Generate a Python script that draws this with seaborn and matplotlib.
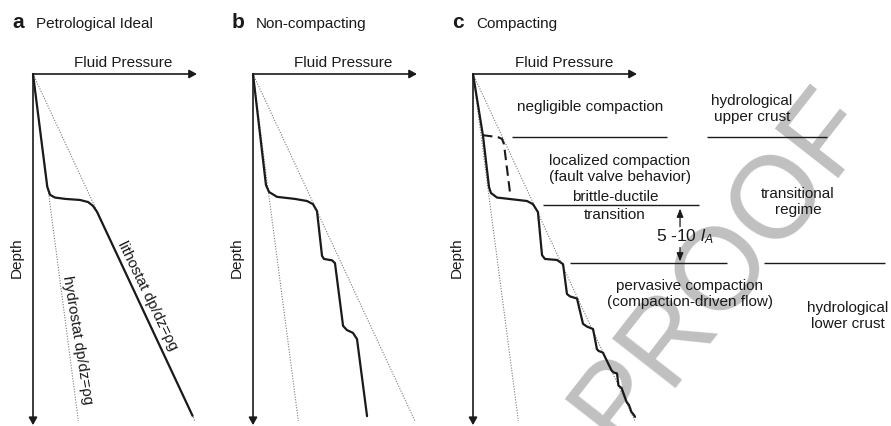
import matplotlib
matplotlib.use("Agg")
import matplotlib.pyplot as plt
import seaborn as sns
import pandas as pd

# ---------------- data (relative units: depth 0..1, pressure in lithostat units) ----------
depth_end = [0.0, 1.0]
hydro_p = [0.0, 0.28]        # hydrostat  dp/dz = rho_f g
litho_p = [0.0, 1.0]         # lithostat  dp/dz = rho g

# panel a : petrological ideal
a_p = [0.0, 0.088, 0.105, 0.135, 0.20, 0.29, 0.34, 0.37, 0.395, 0.985]
a_z = [0.0, 0.325, 0.348, 0.356, 0.360, 0.363, 0.369, 0.380, 0.397, 0.985]

# panel b : non-compacting
b_p = [0.0, 0.080, 0.099, 0.148, 0.259, 0.333, 0.370, 0.395, 0.426, 0.438, 0.488, 0.506,
       0.556, 0.580, 0.617, 0.642, 0.704]
b_z = [0.0, 0.320, 0.340, 0.354, 0.360, 0.366, 0.375, 0.395, 0.524, 0.533, 0.537, 0.545,
       0.726, 0.738, 0.746, 0.764, 0.986]

# panel c : compacting
c_p = [0.0, 0.062, 0.099, 0.111, 0.148, 0.259, 0.333, 0.370, 0.401, 0.426, 0.444, 0.519,
       0.556, 0.580, 0.599, 0.642, 0.679, 0.704, 0.741, 0.765, 0.775, 0.802, 0.855, 0.867,
       0.889, 0.898, 0.917, 0.948, 0.963, 0.978, 0.991, 1.000]
c_z = [0.0, 0.179, 0.326, 0.343, 0.356, 0.362, 0.366, 0.375, 0.398, 0.522, 0.533, 0.536,
       0.548, 0.634, 0.641, 0.647, 0.720, 0.728, 0.735, 0.793, 0.798, 0.803, 0.854, 0.860,
       0.863, 0.898, 0.905, 0.945, 0.954, 0.974, 0.981, 0.988]
c_dash_p = [0.056, 0.105, 0.154, 0.179, 0.191, 0.228]
c_dash_z = [0.176, 0.179, 0.182, 0.187, 0.202, 0.340]

# regime boundaries in panel c
bound_z = [0.182, 0.182, 0.378, 0.545, 0.545]
bound_p0 = [0.241, 1.444, 0.432, 0.599, 1.796]
bound_p1 = [1.198, 2.185, 1.395, 1.568, 2.543]
arrow_p = 1.278

panel_titles = [("a", "Petrological Ideal"), ("b", "Non-compacting"), ("c", "Compacting")]

# ---------------- style ----------------
sns.set_theme(style="white")
plt.rcParams["font.family"] = ["Liberation Sans", "DejaVu Sans"]
plt.rcParams["mathtext.fontset"] = "custom"
plt.rcParams["mathtext.rm"] = "Liberation Sans"
plt.rcParams["mathtext.it"] = "Liberation Sans:italic"

W, H = 891, 427
fig = plt.figure(figsize=(W / 100, H / 100), dpi=100)
fig.patch.set_facecolor("white")

SX, SZ = 162.0, 347.0


def ftext(x, y, s, **kw):
    kw.setdefault("ha", "center")
    kw.setdefault("va", "center")
    kw.setdefault("fontsize", 11)
    kw.setdefault("color", "#1a1a1a")
    return fig.text(x / W, 1 - y / H, s, **kw)


# watermark
ftext(722, 266, "PROOF", fontsize=84, rotation=52, color="#c0c0c0", zorder=-5)


def panel(ox, oy, left, right):
    ax = fig.add_axes([left / W, 0, (right - left) / W, 1])
    ax.set_axis_off()
    ax.patch.set_alpha(0)
    return ax, ((left - ox) / SX, (right - ox) / SX), ((H - oy) / SZ, -oy / SZ)


def draw_frame(ax):
    dot = dict(color="#7a7a7a", lw=0.8, linestyle=(0, (1, 1.4)))
    sns.lineplot(x=hydro_p, y=depth_end, sort=False, estimator=None, ax=ax, **dot)
    sns.lineplot(x=litho_p, y=depth_end, sort=False, estimator=None, ax=ax, **dot)
    ap = dict(arrowstyle="-|>,head_length=0.45,head_width=0.25", color="k", lw=1.2,
              shrinkA=0, shrinkB=0, mutation_scale=10)
    ax.annotate("", xy=(1.012, 0), xytext=(0, 0), arrowprops=ap)
    ax.annotate("", xy=(0, 1.012), xytext=(0, 0), arrowprops=ap)


panels = [(33, 75, 0, 225, a_p, a_z), (253, 75, 225, 430, b_p, b_z), (473, 75, 430, 891, c_p, c_z)]
axes = []
for ox, oy, l, r, pp, zz in panels:
    ax, xl, yl = panel(ox, oy, l, r)
    draw_frame(ax)
    sns.lineplot(x=pp, y=zz, sort=False, estimator=None, color="k", lw=1.6, ax=ax)
    axes.append((ax, xl, yl))

axc = axes[2][0]
sns.lineplot(x=c_dash_p, y=c_dash_z, sort=False, estimator=None, color="k", lw=1.5,
             linestyle=(0, (5, 2.6)), ax=axc)
axc.hlines(bound_z, bound_p0, bound_p1, color="k", lw=1.0)
ap2 = dict(arrowstyle="-|>,head_length=0.5,head_width=0.2", color="k", lw=0.9,
           shrinkA=0, shrinkB=0, mutation_scale=10)
axc.annotate("", xy=(arrow_p, bound_z[2] + 0.01), xytext=(arrow_p, 0.44), arrowprops=ap2)
axc.annotate("", xy=(arrow_p, bound_z[3] - 0.005), xytext=(arrow_p, 0.50), arrowprops=ap2)

for ax, xl, yl in axes:
    ax.set_xlim(*xl)
    ax.set_ylim(*yl)
    ax.set_xlabel("")
    ax.set_ylabel("")
    if ax.get_legend():
        ax.get_legend().remove()

# ---------------- text ----------------
for (letter, title), lx in zip(panel_titles, [12, 232, 452]):
    ftext(lx, 23, letter, ha="left", fontsize=15, fontweight="bold", color="k")
    ftext(lx + 24, 24, title, ha="left", fontsize=11)

for cx, dx in [(123, 17), (343, 237), (564, 457)]:
    ftext(cx, 63, "Fluid Pressure")
    ftext(dx, 258, "Depth", rotation=90)

ftext(148, 296, "lithostat dp/dz=ρg", rotation=-64, rotation_mode="anchor")
ftext(77, 340, "hydrostat dp/dz=ρg", rotation=-80.7, rotation_mode="anchor")

ftext(590, 107, "negligible compaction")
ftext(752, 109, "hydrological\nupper crust")
ftext(620, 169, "localized compaction\n(fault valve behavior)")
ftext(615, 197, "brittle-ductile")
ftext(615, 215, "transition")
ftext(798, 202, "transitional\nregime")
ftext(685, 237, r"5 -10 $\mathit{l}_{A}$", fontsize=12.5)
ftext(690, 294, "pervasive compaction\n(compaction-driven flow)")
ftext(848, 316, "hydrological\nlower crust")

fig.savefig("out.png", dpi=100, facecolor="white")
